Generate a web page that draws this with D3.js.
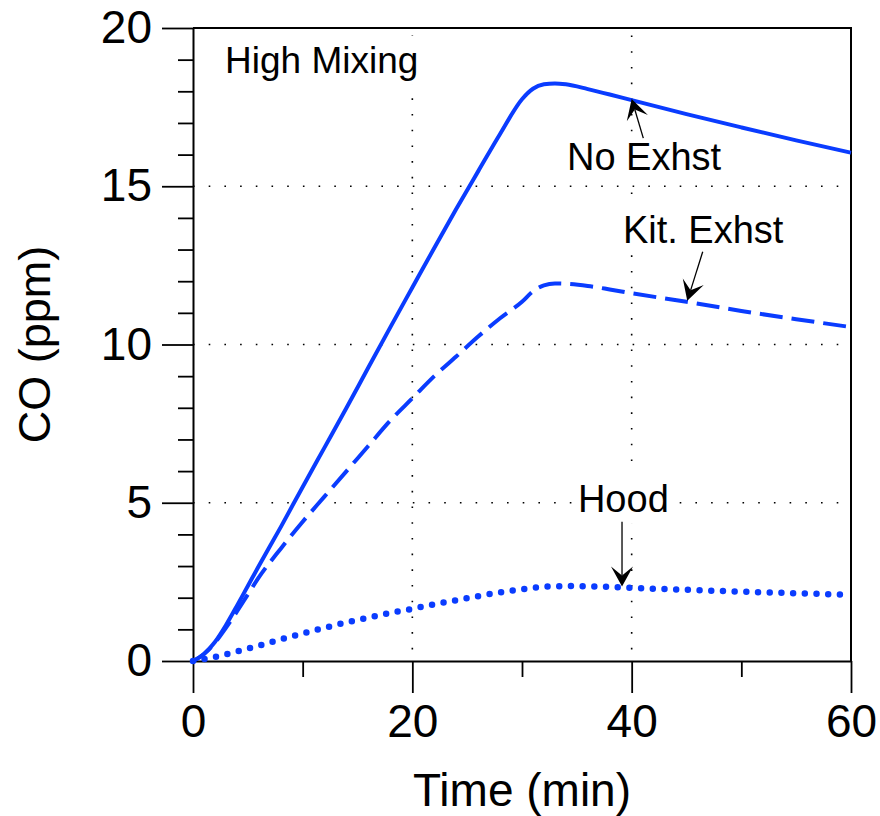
<!DOCTYPE html>
<html>
<head>
<meta charset="utf-8">
<script src="https://cdn.jsdelivr.net/npm/d3@7"></script>
<style>
  html, body { margin: 0; padding: 0; background: #fff; }
  svg { display: block; }
  text { font-family: "Liberation Sans", Arial, Helvetica, sans-serif; fill: #000; }
</style>
</head>
<body>
<svg id="chart" width="880" height="816"></svg>
<script>
// ---------------- data ----------------
const times    = [0, 1, 2, 3, 4, 5, 6, 8, 10, 12, 14, 16, 18, 20, 22, 24, 26, 28, 30, 31, 32, 33, 34, 36, 38, 40, 45, 50, 55, 60];
const noExhst  = [0, 0.22, 0.6, 1.13, 1.74, 2.37, 3.0, 4.23, 5.5, 6.75, 8.0, 9.28, 10.55, 11.8, 13.05, 14.28, 15.47, 16.65, 17.75, 18.08, 18.22, 18.25, 18.22, 18.07, 17.9, 17.72, 17.28, 16.86, 16.45, 16.06];
const kitExhst = [0, 0.22, 0.58, 1.05, 1.56, 2.1, 2.64, 3.55, 4.4, 5.2, 6.0, 6.8, 7.6, 8.3, 9.0, 9.62, 10.25, 10.83, 11.35, 11.68, 11.87, 11.93, 11.92, 11.85, 11.74, 11.62, 11.35, 11.06, 10.8, 10.55];
const hood     = [0, 0.06, 0.13, 0.21, 0.3, 0.39, 0.48, 0.68, 0.87, 1.05, 1.22, 1.37, 1.52, 1.65, 1.79, 1.92, 2.05, 2.17, 2.27, 2.31, 2.35, 2.36, 2.37, 2.36, 2.34, 2.31, 2.25, 2.19, 2.14, 2.09];

const xMajorTicks = [0, 20, 40, 60];
const xMinorTicks = [10, 30, 50];
const yMajorTicks = [0, 5, 10, 15, 20];
const yMinorTicks = [1, 2, 3, 4, 6, 7, 8, 9, 11, 12, 13, 14, 16, 17, 18, 19];
const xGrid = [20, 40];
const yGrid = [5, 10, 15];

const xLabel = "Time (min)";
const yLabel = "CO (ppm)";
const panelTitle = { text: "High Mixing", t: 2.92, v: 18.58 };
// annotation labels (data coords of text start / baseline) and arrows (tail -> tip)
const annotations = [
  { text: "No Exhst",   t: 34.1, v: 15.51, tail: [41.06, 16.52], tip: [40.0, 17.76] },
  { text: "Kit. Exhst", t: 39.2, v: 13.21, tail: [46.48, 12.93], tip: [45.07, 11.38] },
  { text: "Hood",       t: 35.1, v: 4.71,  tail: [39.12, 4.40],  tip: [39.12, 2.35] }
];

// ---------------- layout ----------------
const svg = d3.select("#chart");
const L = 193, R = 851, T = 28, B = 661;
const x = d3.scaleLinear().domain([0, 60]).range([L, R]);
const y = d3.scaleLinear().domain([0, 20]).range([B, T]);
const blue = "#0a3cff";

// grid
const grid = svg.append("g");
grid.selectAll("line.hg").data(yGrid).enter().append("line")
  .attr("x1", L).attr("x2", R).attr("y1", d => y(d)).attr("y2", d => y(d))
  .attr("stroke", "#000").attr("stroke-width", 1.6).attr("stroke-dasharray", "1.6,14.1");
grid.selectAll("line.vg").data(xGrid).enter().append("line")
  .attr("x1", d => x(d)).attr("x2", d => x(d)).attr("y1", T).attr("y2", B)
  .attr("stroke", "#000").attr("stroke-width", 1.6).attr("stroke-dasharray", "1.6,14.1")
  .attr("stroke-dashoffset", 8.2);

// text labels with white background
function boxedText(g, str, px, py, size) {
  const grp = g.append("g");
  const rect = grp.append("rect").attr("fill", "#fff");
  const t = grp.append("text").attr("x", px).attr("y", py).attr("font-size", size).text(str);
  const bb = t.node().getBBox();
  const pad = 4;
  rect.attr("x", bb.x - pad).attr("y", bb.y - pad).attr("width", bb.width + 2 * pad).attr("height", bb.height + 2 * pad);
}
const labels = svg.append("g");
boxedText(labels, panelTitle.text, x(panelTitle.t), y(panelTitle.v), 37);
annotations.forEach(a => boxedText(labels, a.text, x(a.t), y(a.v), 38));

// axes
const xAxis = svg.append("g").attr("transform", `translate(0,${B})`)
  .call(d3.axisBottom(x).tickValues(xMajorTicks).tickSize(32).tickSizeOuter(0).tickPadding(11).tickFormat(d3.format("d")));
const xAxisMinor = svg.append("g").attr("transform", `translate(0,${B})`)
  .call(d3.axisBottom(x).tickValues(xMinorTicks).tickSize(16).tickSizeOuter(0).tickFormat(""));
const yAxis = svg.append("g").attr("transform", `translate(${L},0)`)
  .call(d3.axisLeft(y).tickValues(yMajorTicks).tickSize(31).tickSizeOuter(0).tickPadding(10).tickFormat(d3.format("d")));
const yAxisMinor = svg.append("g").attr("transform", `translate(${L},0)`)
  .call(d3.axisLeft(y).tickValues(yMinorTicks).tickSize(15).tickSizeOuter(0).tickFormat(""));
[xAxisMinor, yAxisMinor].forEach(a => a.select(".domain").remove());
[xAxis, xAxisMinor, yAxis, yAxisMinor].forEach(a => {
  a.selectAll("line").attr("stroke", "#000").attr("stroke-width", 1.8);
  a.select(".domain").attr("stroke", "#000").attr("stroke-width", 2);
  a.selectAll("text").attr("font-size", 46).attr("fill", "#000")
    .style("font-family", '"Liberation Sans", Arial, Helvetica, sans-serif');
});
// top and right frame
svg.append("path")
  .attr("d", `M${L},${T}H${R}V${B}`)
  .attr("fill", "none").attr("stroke", "#000").attr("stroke-width", 2);

// axis titles
svg.append("text").attr("x", (L + R) / 2).attr("y", 806).attr("text-anchor", "middle")
  .attr("font-size", 46).text(xLabel);
svg.append("text").attr("transform", `translate(50,${(T + B) / 2}) rotate(-90)`)
  .attr("text-anchor", "middle").attr("font-size", 45).text(yLabel);

// curves
const line = (vals) => d3.line().x((d, i) => x(times[i])).y(d => y(d)).curve(d3.curveMonotoneX)(vals);
svg.append("path").attr("d", line(noExhst)).attr("fill", "none").attr("stroke", blue).attr("stroke-width", 4);
svg.append("path").attr("d", line(kitExhst)).attr("fill", "none").attr("stroke", blue).attr("stroke-width", 4)
  .attr("stroke-dasharray", "23,9");
svg.append("path").attr("d", line(hood)).attr("fill", "none").attr("stroke", blue).attr("stroke-width", 6.5)
  .attr("stroke-linecap", "round").attr("stroke-dasharray", "0,11.7");

// arrows
const arrows = svg.append("g");
annotations.forEach(a => {
  const x0 = x(a.tail[0]), y0 = y(a.tail[1]), x1 = x(a.tip[0]), y1 = y(a.tip[1]);
  const ang = Math.atan2(y1 - y0, x1 - x0);
  const ux = Math.cos(ang), uy = Math.sin(ang), nx = -uy, ny = ux;
  const len = 20, half = 11, notch = 11;
  const bx = x1 - ux * len, by = y1 - uy * len;
  const mx = x1 - ux * notch, my = y1 - uy * notch;
  arrows.append("line").attr("x1", x0).attr("y1", y0).attr("x2", mx).attr("y2", my)
    .attr("stroke", "#000").attr("stroke-width", 1.3);
  arrows.append("path")
    .attr("d", `M${x1},${y1}L${bx + nx * half},${by + ny * half}L${mx},${my}L${bx - nx * half},${by - ny * half}Z`)
    .attr("fill", "#000");
});
</script>
</body>
</html>
